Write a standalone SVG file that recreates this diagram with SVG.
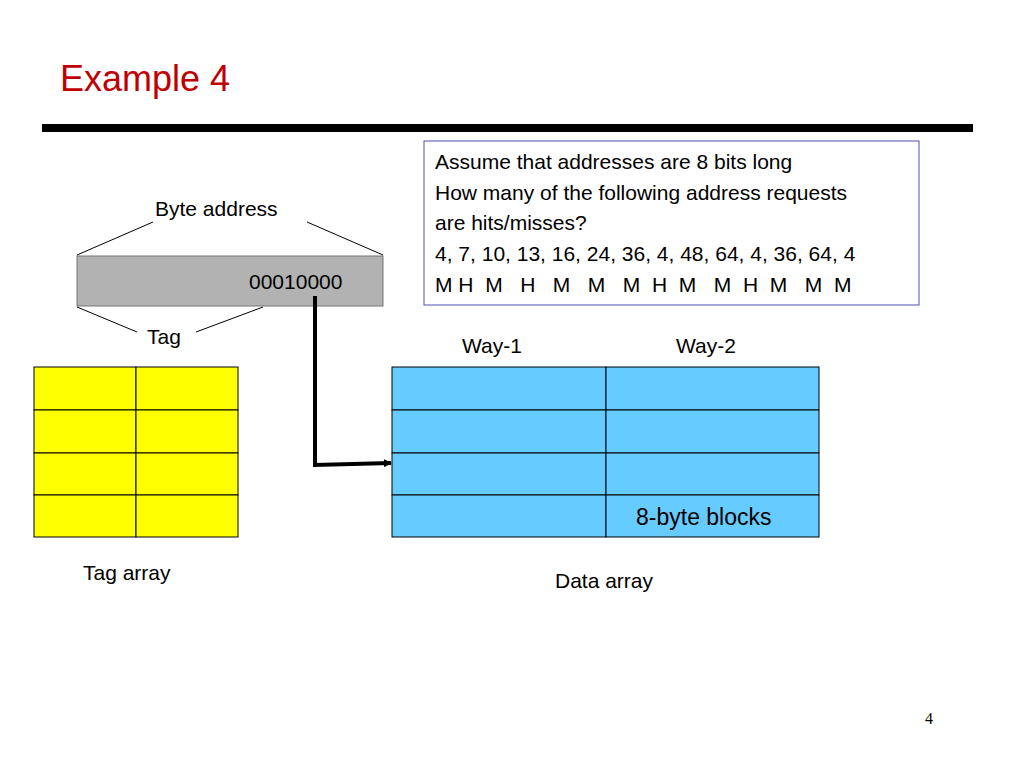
<svg xmlns="http://www.w3.org/2000/svg" width="1024" height="768" viewBox="0 0 1024 768">
<style>
text{font-family:"Liberation Sans","DejaVu Sans",sans-serif;fill:#000}
.t{font-size:21px}
.c{stroke:#000;stroke-width:1}
.y{fill:#ffff00;stroke:#000;stroke-width:1}
.b{fill:#66ccff;stroke:#000;stroke-width:1}
.l{stroke:#000;stroke-width:1;fill:none}
</style>
<defs><marker id="ah" markerWidth="8" markerHeight="8" refX="7" refY="4" orient="auto" markerUnits="userSpaceOnUse"><path d="M0,0 L8,4 L0,8 Z" fill="#000"/></marker></defs>
<rect width="1024" height="768" fill="#fff"/>
<text x="60" y="91" style="font-size:36px;fill:#c00000">Example 4</text>
<rect x="42" y="124" width="931" height="8" fill="#000"/>
<g id="note">
<rect x="424" y="141" width="495" height="164" fill="#fff" stroke="#5050b0" stroke-width="1"/>
<text class="t" x="435" y="169">Assume that addresses are 8 bits long</text>
<text class="t" x="435" y="200">How many of the following address requests</text>
<text class="t" x="435" y="230">are hits/misses?</text>
<text class="t" x="435" y="261">4, 7, 10, 13, 16, 24, 36, 4, 48, 64, 4, 36, 64, 4</text>
<text class="t" x="435" y="292" xml:space="preserve">M H  M   H   M   M   M  H  M   M  H  M   M  M</text>
</g>
<g id="address">
<text class="t" x="155" y="216">Byte address</text>
<rect x="77" y="256" width="306" height="50" fill="#b2b2b2" stroke="#777" stroke-width="1"/>
<text class="t" x="249" y="289">00010000</text>
<path class="l" d="M77,255 L153,222 M307,222 L383,255 M77,307 L137,332 M196,332 L263,307"/>
<text class="t" x="147" y="344">Tag</text>
</g>
<g id="tagarray">
<rect class="y" x="34" y="367" width="102" height="43"/><rect class="y" x="136" y="367" width="102" height="43"/>
<rect class="y" x="34" y="410" width="102" height="43"/><rect class="y" x="136" y="410" width="102" height="43"/>
<rect class="y" x="34" y="453" width="102" height="42"/><rect class="y" x="136" y="453" width="102" height="42"/>
<rect class="y" x="34" y="495" width="102" height="42"/><rect class="y" x="136" y="495" width="102" height="42"/>
<text class="t" x="83" y="580">Tag array</text>
</g>
<g id="dataarray">
<text class="t" x="462" y="353">Way-1</text>
<text class="t" x="676" y="353">Way-2</text>
<rect class="b" x="392" y="367" width="214" height="43"/><rect class="b" x="606" y="367" width="213" height="43"/>
<rect class="b" x="392" y="410" width="214" height="43"/><rect class="b" x="606" y="410" width="213" height="43"/>
<rect class="b" x="392" y="453" width="214" height="42"/><rect class="b" x="606" y="453" width="213" height="42"/>
<rect class="b" x="392" y="495" width="214" height="42"/><rect class="b" x="606" y="495" width="213" height="42"/>
<text class="t" x="636" y="525" style="font-size:23px">8-byte blocks</text>
<text class="t" x="555" y="588">Data array</text>
</g>
<g id="connectors">
<path d="M315,296 L315,465 L391,463" fill="none" stroke="#000" stroke-width="4" marker-end="url(#ah)"/>
</g>
<text x="925" y="724" style="font-family:'Liberation Serif',serif;font-size:16px">4</text>
</svg>
